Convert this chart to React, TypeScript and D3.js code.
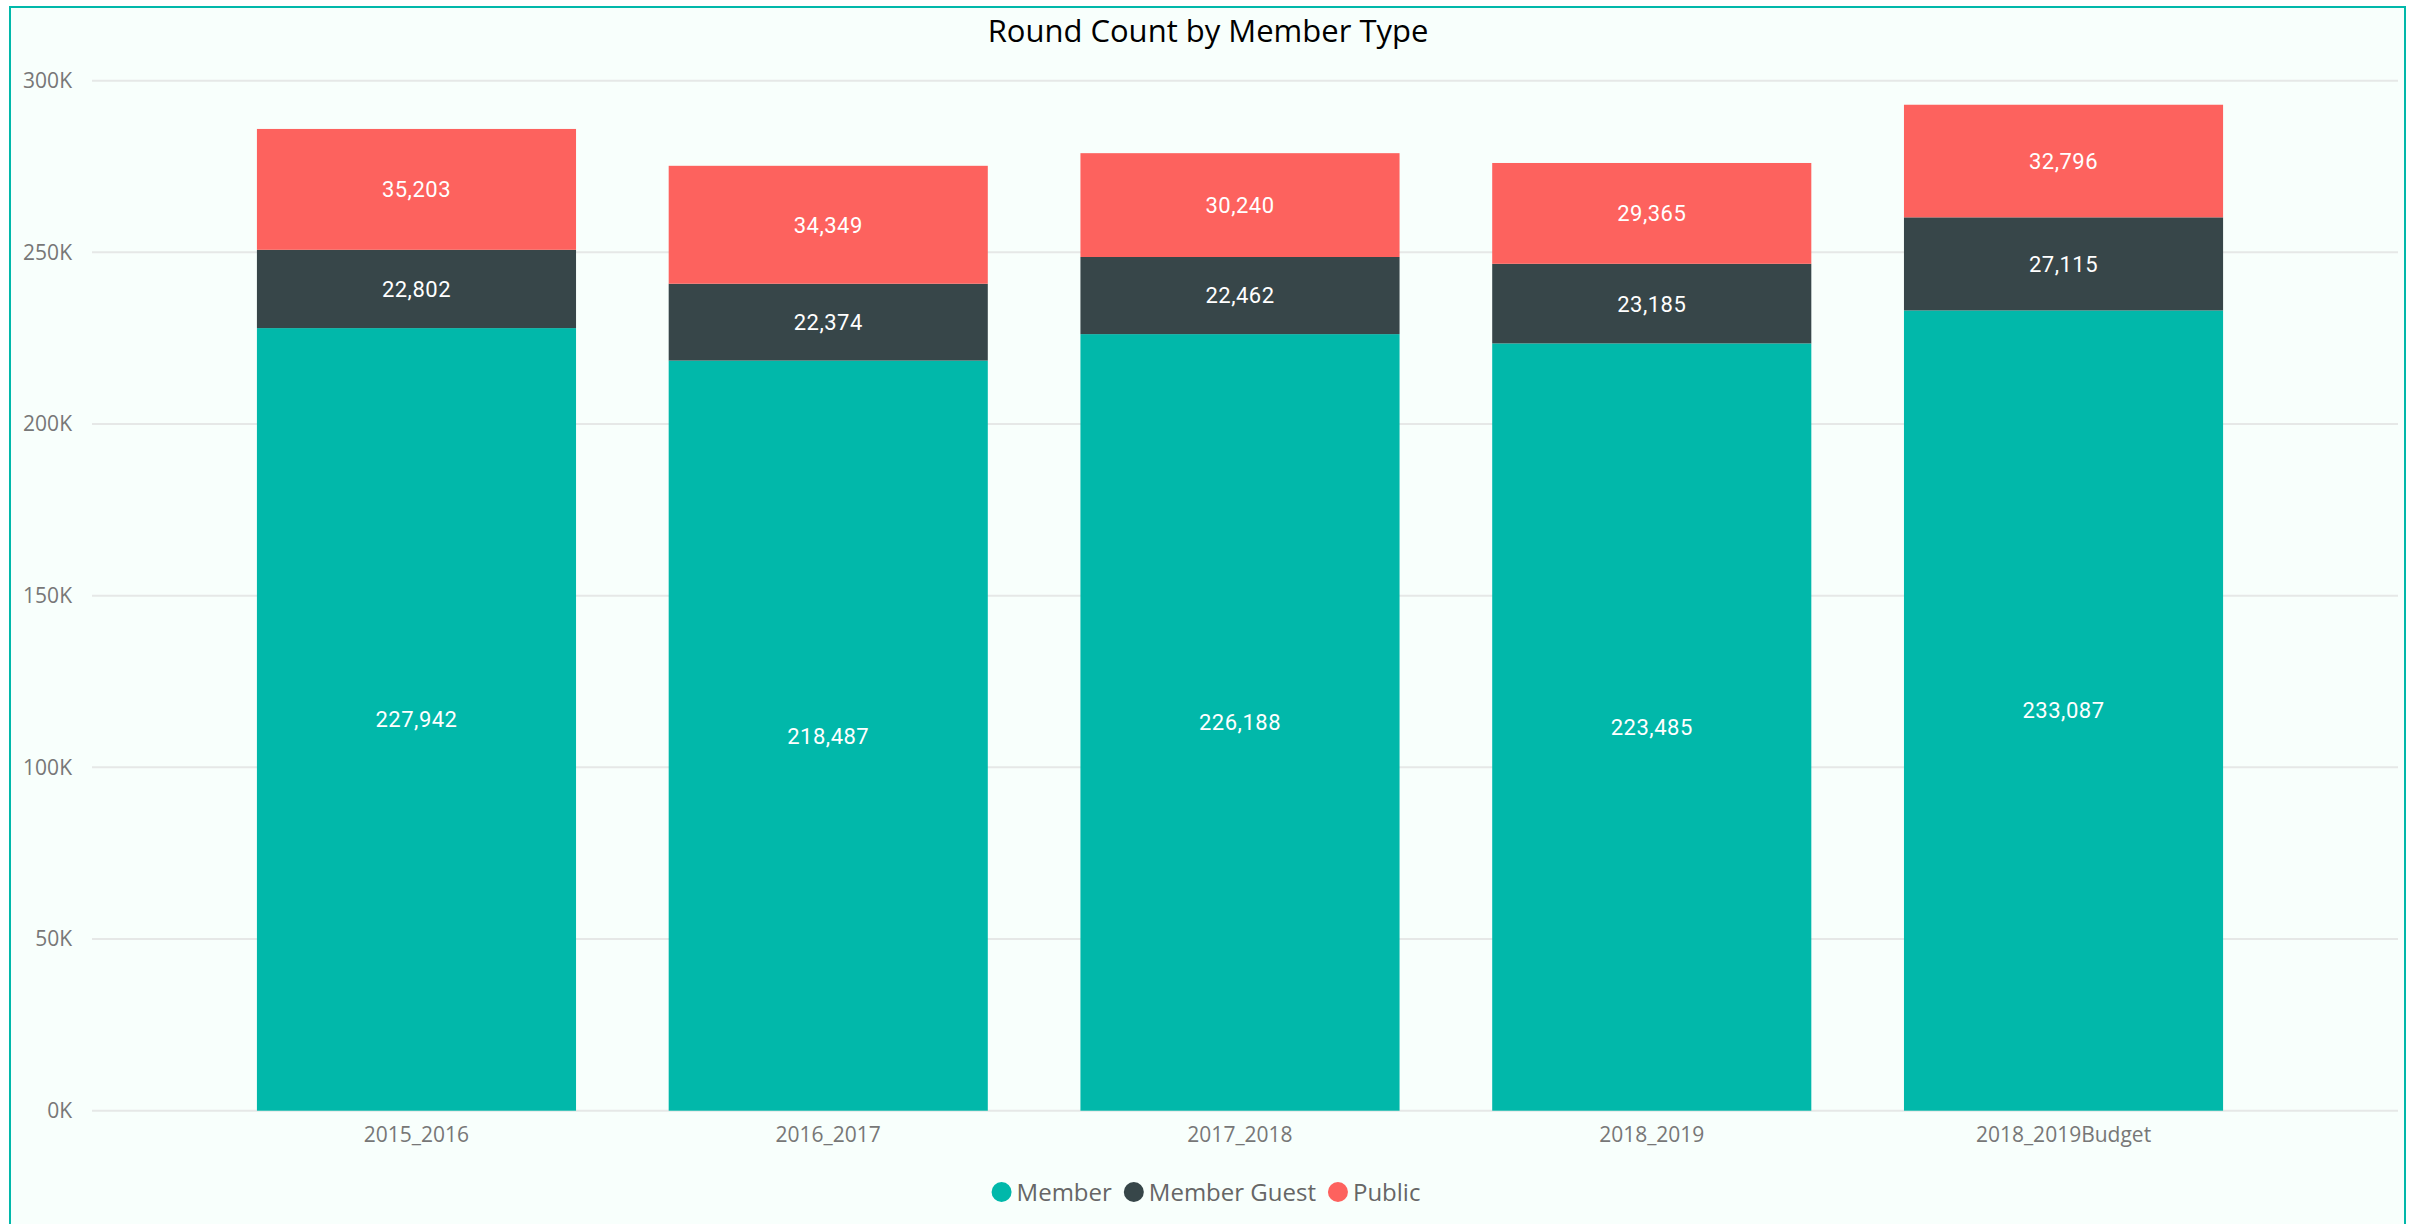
import * as d3 from "d3";
import React, { useEffect, useRef } from "react";

const W = 2415;
const H = 1224;

const seasons = ["2015_2016", "2016_2017", "2017_2018", "2018_2019", "2018_2019Budget"];
const member = [227942, 218487, 226188, 223485, 233087];
const memberGuest = [22802, 22374, 22462, 23185, 27115];
const publicRounds = [35203, 34349, 30240, 29365, 32796];
const seriesNames = ["Member", "Member Guest", "Public"];
const seriesColors = ["#01B8AA", "#374649", "#FD625E"];
const yTicks = [0, 50000, 100000, 150000, 200000, 250000, 300000];

const uiFont = "'Open Sans', 'Noto Sans', sans-serif";

const App = () => {
    const svgRef = useRef(null);

    useEffect(() => {
        const svg = d3.select(svgRef.current);
        svg.selectAll("*").remove();

        // frame
        svg.append("rect")
            .attr("x", 0).attr("y", 0).attr("width", W).attr("height", H)
            .attr("fill", "#ffffff");
        svg.append("rect")
            .attr("x", 10).attr("y", 7).attr("width", 2395).attr("height", 1230)
            .attr("fill", "#F8FFFC")
            .attr("stroke", "#01B8AA")
            .attr("stroke-width", 2);

        svg.append("text")
            .attr("x", 1208).attr("y", 42)
            .attr("text-anchor", "middle")
            .style("font-family", uiFont)
            .style("font-size", "31px")
            .attr("fill", "#000")
            .text("Round Count by Member Type");

        const x = d3.scaleBand()
            .domain(seasons)
            .range([210.6, 2269.4])
            .paddingInner(0.225)
            .paddingOuter(0.1125);

        const y = d3.scaleLinear().domain([0, 300000]).range([1110.7, 80.7]);

        // gridlines
        svg.append("g")
            .selectAll("line")
            .data(yTicks)
            .enter()
            .append("line")
            .attr("x1", 92).attr("x2", 2398)
            .attr("y1", d => y(d)).attr("y2", d => y(d))
            .attr("stroke", "#E6E8E7")
            .attr("stroke-width", 2);

        svg.append("g")
            .selectAll("text")
            .data(yTicks)
            .enter()
            .append("text")
            .attr("x", 72)
            .attr("y", d => y(d))
            .attr("dy", "0.35em")
            .attr("text-anchor", "end")
            .style("font-family", uiFont)
            .style("font-size", "21px")
            .attr("fill", "#777")
            .text(d => `${d / 1000}K`);

        const rows = seasons.map((s, i) => ({
            season: s,
            Member: member[i],
            "Member Guest": memberGuest[i],
            Public: publicRounds[i],
        }));
        const stacked = d3.stack().keys(seriesNames)(rows);

        const layers = svg.append("g")
            .selectAll("g")
            .data(stacked)
            .enter()
            .append("g")
            .attr("fill", (d, i) => seriesColors[i]);

        layers.selectAll("rect")
            .data(d => d)
            .enter()
            .append("rect")
            .attr("x", d => x(d.data.season))
            .attr("width", x.bandwidth())
            .attr("y", d => y(d[1]))
            .attr("height", d => y(d[0]) - y(d[1]));

        const fmt = d3.format(",");
        layers.selectAll("text")
            .data(d => d.map(v => ({ v, key: d.key })))
            .enter()
            .append("text")
            .attr("x", d => x(d.v.data.season) + x.bandwidth() / 2)
            .attr("y", d => (y(d.v[0]) + y(d.v[1])) / 2)
            .attr("dy", "0.36em")
            .attr("text-anchor", "middle")
            .style("font-family", "Roboto, sans-serif")
            .style("font-size", "22px")
            .style("letter-spacing", "0.5px")
            .attr("fill", "#fff")
            .text(d => fmt(d.v.data[d.key]));

        // x axis labels
        svg.append("g")
            .selectAll("text")
            .data(seasons)
            .enter()
            .append("text")
            .attr("x", d => x(d) + x.bandwidth() / 2)
            .attr("y", 1142)
            .attr("text-anchor", "middle")
            .style("font-family", uiFont)
            .style("font-size", "21px")
            .attr("fill", "#777")
            .text(d => d);

        // legend, centred under the plot
        const legend = svg.append("g");
        const items = legend.selectAll("g")
            .data(seriesNames)
            .enter()
            .append("g");
        items.append("circle")
            .attr("r", 10)
            .attr("cx", 10)
            .attr("cy", 0)
            .attr("fill", (d, i) => seriesColors[i]);
        items.append("text")
            .attr("x", 25)
            .attr("y", 9)
            .style("font-family", uiFont)
            .style("font-size", "24px")
            .attr("fill", "#666")
            .text(d => d);

        let offset = 0;
        const widths = [];
        items.each(function () {
            const t = d3.select(this).select("text").node();
            widths.push(25 + t.getComputedTextLength());
        });
        items.attr("transform", (d, i) => {
            const tx = offset;
            offset += widths[i] + 12;
            return `translate(${tx},0)`;
        });
        const total = offset - 12;
        legend.attr("transform", `translate(${1206 - total / 2},1192)`);
    }, []);

    return (
        <svg
            ref={svgRef}
            width={W}
            height={H}
            style={{ position: "absolute", left: 0, top: 0, display: "block" }}
        ></svg>
    );
};

export default App;
